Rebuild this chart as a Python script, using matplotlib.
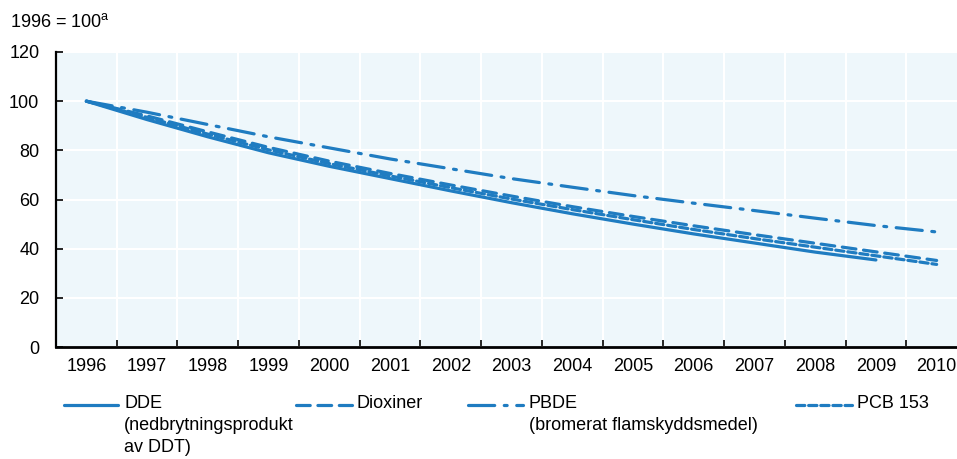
import matplotlib
matplotlib.use('Agg')
import matplotlib.pyplot as plt
from matplotlib.lines import Line2D

plt.rcParams['font.family'] = ['Liberation Sans', 'DejaVu Sans']
plt.rcParams['font.size'] = 13

# data (1996 = 100)
years = ['1996', '1997', '1998', '1999', '2000', '2001', '2002', '2003',
         '2004', '2005', '2006', '2007', '2008', '2009', '2010']
dde = [100, 92.5, 85.5, 79, 73.5, 68.5, 63.5, 58.7, 54.2, 50, 46, 42.3, 38.6, 35.4]
dioxiner = [100, 94, 87.5, 81.2, 75.6, 70.6, 65.9, 61.4, 57.1, 53.1, 49.3, 45.7, 42.2, 38.7, 35.2]
pbde = [100, 95.5, 90.5, 85.5, 81, 76.5, 72.5, 68.5, 65, 61.6, 58.5, 55.5, 52.4, 49.4, 46.8]
pcb153 = [100, 93.4, 86.6, 80.2, 74.6, 69.6, 64.8, 60.2, 55.9, 51.8, 47.8, 44.1, 40.6, 37.1, 33.6]

labels = ['DDE\n(nedbrytningsprodukt\nav DDT)', 'Dioxiner',
          'PBDE\n(bromerat flamskyddsmedel)', 'PCB 153']

blue = '#1f7cc1'
lw = 2.3
styles = ['-', (0, (4.3, 2.4)), (0, (8.2, 3.0, 0.9, 3.0)), (0, (2.6, 1.2))]
series = [dde, dioxiner, pbde, pcb153]

W, H = 957, 459
fig = plt.figure(figsize=(W / 100, H / 100), dpi=100)
ax = fig.add_axes([56 / W, 1 - 347 / H, 911 / W, 295 / H])
ax.set_facecolor('#eef7fb')

for vals, ls in zip(series, styles):
    ax.plot(range(len(vals)), vals, color=blue, lw=lw, linestyle=ls,
            solid_capstyle='round', dash_capstyle='round', zorder=3)

ax.set_xlim(-0.5, len(years) - 0.5)
ax.set_ylim(0, 120)
ax.set_yticks(range(0, 121, 20))
ax.set_xticks([i - 0.5 for i in range(len(years) + 1)])
ax.set_xticklabels([])
ax.set_xticks(range(len(years)), minor=True)
ax.set_xticklabels(years, minor=True)
ax.tick_params(axis='x', which='minor', length=0, pad=8, labelsize=13)
ax.tick_params(axis='x', which='major', direction='in', length=5, width=1.2)
ax.tick_params(axis='y', direction='in', length=5, width=1.2, pad=12, labelsize=13)

ax.grid(True, which='major', color='white', lw=1.5)
ax.set_axisbelow(True)
for s in ['top', 'right']:
    ax.spines[s].set_visible(False)
ax.spines['left'].set_linewidth(1.6)
ax.spines['bottom'].set_linewidth(2.0)

fig.text(10 / W, 1 - 27 / H, '1996 = 100$^{\\mathregular{a}}$', fontsize=13,
         va='baseline', ha='left')

# legend, laid out by hand like the reference
handle_x = [(64, 118), (296, 352), (468, 523), (796, 852)]
text_x = [124, 357, 529, 857]
ly = 405
for (x0, x1), tx, ls, lab in zip(handle_x, text_x, styles, labels):
    fig.add_artist(Line2D([x0 / W, x1 / W], [1 - ly / H, 1 - ly / H],
                          transform=fig.transFigure, color=blue, lw=lw,
                          linestyle=ls, solid_capstyle='round',
                          dash_capstyle='round'))
    fig.text(tx / W, 1 - (ly - 10) / H, lab, fontsize=13, va='top', ha='left',
             linespacing=1.38)

fig.savefig('out.png', dpi=100)
